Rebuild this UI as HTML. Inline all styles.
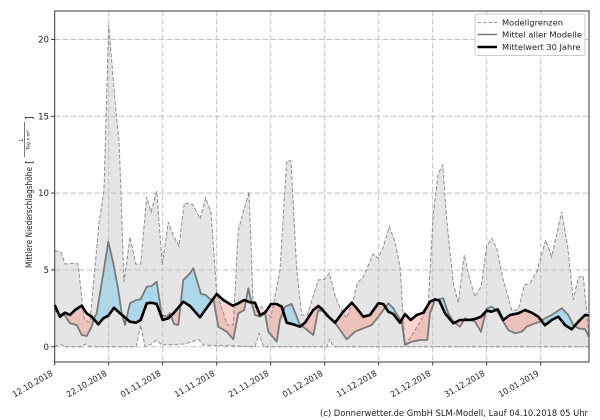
<!DOCTYPE html>
<html>
<head>
<meta charset="utf-8">
<style>
  html, body { margin: 0; padding: 0; background: #ffffff; }
  svg { display: block; }
  text { font-family: "DejaVu Sans", "Liberation Sans", sans-serif; fill: #222; }
</style>
</head>
<body>
<svg width="600" height="420" viewBox="0 0 600 420" xmlns="http://www.w3.org/2000/svg">
  <defs>
    <clipPath id="aboveBlack">
      <polygon points="54.7,305 60,316.7 65,312.7 70,315 75,310 81.7,305.7 86.7,313.3 91.7,316.7 98.3,324.3 103.3,318.3 108.3,315.7 114,307.7 120,313.3 130,321.7 136,322.7 140.7,320 146.7,303.3 151.7,302.7 156.7,304 162.7,320 168.3,318.3 174,312.7 183.3,301.7 190,306 200,317.3 216.7,294 223.3,300 232.7,305.7 238.3,303.3 244.3,300 250,302.3 255,302.7 260,315 265,312.7 271,304 276.7,304 281.7,306.7 286.7,322.7 293.3,324.3 300,326.7 305,322.7 313.3,310 318.3,306 322,309 326.7,315 335,322.7 343.3,311.7 351.7,302.7 356.7,308.3 363.3,316.7 370,315 378.3,303.3 383.3,304 388.3,311.7 393.3,314 400,322.7 405,314 410.7,320 416.7,315 423.3,312.7 430,301.7 435,299.3 439.3,300.7 445,313.3 453.3,323.3 460,320 468.3,320 475,319 481,316.7 486.7,310.7 491.7,311.7 497.7,309.3 503.3,320 510,315 518.3,313.3 525,310 531.7,312.7 538.3,316.7 545,325.3 551.7,320 558.3,316.7 565,325 571.7,329.3 578.3,321.7 585,315 589,315.5 589,0 54.7,0"/>
    </clipPath>
    <clipPath id="belowBlack">
      <polygon points="54.7,305 60,316.7 65,312.7 70,315 75,310 81.7,305.7 86.7,313.3 91.7,316.7 98.3,324.3 103.3,318.3 108.3,315.7 114,307.7 120,313.3 130,321.7 136,322.7 140.7,320 146.7,303.3 151.7,302.7 156.7,304 162.7,320 168.3,318.3 174,312.7 183.3,301.7 190,306 200,317.3 216.7,294 223.3,300 232.7,305.7 238.3,303.3 244.3,300 250,302.3 255,302.7 260,315 265,312.7 271,304 276.7,304 281.7,306.7 286.7,322.7 293.3,324.3 300,326.7 305,322.7 313.3,310 318.3,306 322,309 326.7,315 335,322.7 343.3,311.7 351.7,302.7 356.7,308.3 363.3,316.7 370,315 378.3,303.3 383.3,304 388.3,311.7 393.3,314 400,322.7 405,314 410.7,320 416.7,315 423.3,312.7 430,301.7 435,299.3 439.3,300.7 445,313.3 453.3,323.3 460,320 468.3,320 475,319 481,316.7 486.7,310.7 491.7,311.7 497.7,309.3 503.3,320 510,315 518.3,313.3 525,310 531.7,312.7 538.3,316.7 545,325.3 551.7,320 558.3,316.7 565,325 571.7,329.3 578.3,321.7 585,315 589,315.5 589,420 54.7,420"/>
    </clipPath>
  </defs>

  <!-- grey envelope fill -->
  <polygon fill="#e5e5e5" points="54.7,251 61,252 65,264 76,263.3 78,264 84,318 88,322 90,321.7 99,223 104,190 108.7,25 116.3,116 119,140 121,193 124,282 130,237 135.7,264 140.7,264 146.7,197 151,212 156.7,191 162.3,265 168.3,222 174,237 179,246 184.3,203 190,204 193.3,205 200,219 205.7,198 211,212 216.7,293 227.3,325 233.3,325 238.3,230 249,192 253.3,307 261.7,307 271,317 280,270 286.7,161 291,161 296.7,270 301.7,315 307.3,315 318.3,280 325,279 329.3,273 335,295 340,308 346.7,318 353.3,300 357.3,283.3 363.3,276.7 373.3,254 378.3,258.3 383.3,246.7 389.3,226.7 395,241.7 400,266.7 403,313 405,345 412,335 420,322 428,307 433.3,213.3 438.3,173.3 442.7,165 446.7,220 453.3,283.3 458.3,303 464.3,255 470,280 475,296.7 481,286.7 486.7,246.7 491.7,238.3 496.7,248.3 503.3,280 511.7,310 518.3,310 524.3,285 530,283.3 536.7,271.7 545.7,240 551.7,256.7 561.7,211.7 567.7,246.7 573.3,300 578.3,277.3 583.3,276 589,336.7 589,346.7 333.3,346.7 330,339.3 326.7,346.7 263.3,346.7 259,333.3 255,346.7 203.3,345 198.3,339.3 191.7,341.7 185,344 161.7,345 156.7,340 151.7,344 145,346.7 140.7,325 136,346.7 90,346.7 86,344 80,346.7 65,346.7 60,344 54.7,346.7"/>

  <!-- blue: model mean above 30-year mean -->
  <polygon clip-path="url(#aboveBlack)" fill="rgba(135,206,235,0.6)" points="54.7,310 60,315 63.3,313.3 70,323.3 76.7,325 81.7,335 86.7,336 91.7,326.7 93.3,320 96.7,313.3 103.3,273.3 108.3,241.7 113.3,263.3 118.3,290 121.7,313.3 125,325 130,303.3 136,300 140.7,299.3 146.7,286.7 151.7,286 156.7,281.7 161.7,315 166.7,316.7 170,313.3 174,324 178.3,325 183.3,280 190,273.3 193.3,268.3 201,294 205.7,295 211,300 213.3,298.3 218.3,326.7 226.7,331.7 233.3,339.3 238.3,313.3 244.3,310 248.3,288.3 251.7,303.3 255,315 260,316.7 265,313.3 268.3,331.7 276.7,341.7 280,320 285,306.7 291.7,304 300,325 305,328.3 313.3,335 318.3,310 322,311 326.7,313.3 330,318.3 335,322.7 346.7,339.3 355,331.7 363.3,328.3 371.7,325 378.3,316.7 383.3,310 388.3,303.3 393.3,308.3 398.3,316.7 401.7,321.7 405,345 411.7,341.7 420,340 427.3,340 430,313.3 435,300 443.3,298.3 448.3,313.3 453.3,321.7 460,326.7 465,318.3 470,320 475,321.7 481,331.7 486.7,308.3 491.7,306.7 496.7,310 503.3,321.7 508.3,330 515,333.3 521.7,331.7 526.7,326.7 535,323.3 540,321.7 545,318.3 551.7,315 561.7,308.3 568.3,315 573.3,325 578.3,328.3 585,329.3 589,336.7 589,420 54.7,420"/>

  <!-- pink: model mean below 30-year mean -->
  <polygon clip-path="url(#belowBlack)" fill="rgba(250,128,114,0.35)" points="54.7,310 60,315 63.3,313.3 70,323.3 76.7,325 81.7,335 86.7,336 91.7,326.7 93.3,320 96.7,313.3 103.3,273.3 108.3,241.7 113.3,263.3 118.3,290 121.7,313.3 125,325 130,303.3 136,300 140.7,299.3 146.7,286.7 151.7,286 156.7,281.7 161.7,315 166.7,316.7 170,313.3 174,324 178.3,325 183.3,280 190,273.3 193.3,268.3 201,294 205.7,295 211,300 213.3,298.3 218.3,326.7 226.7,331.7 233.3,339.3 238.3,313.3 244.3,310 248.3,288.3 251.7,303.3 255,315 260,316.7 265,313.3 268.3,331.7 276.7,341.7 280,320 285,306.7 291.7,304 300,325 305,328.3 313.3,335 318.3,310 322,311 326.7,313.3 330,318.3 335,322.7 346.7,339.3 355,331.7 363.3,328.3 371.7,325 378.3,316.7 383.3,310 388.3,303.3 393.3,308.3 398.3,316.7 401.7,321.7 405,345 411.7,341.7 420,340 427.3,340 430,313.3 435,300 443.3,298.3 448.3,313.3 453.3,321.7 460,326.7 465,318.3 470,320 475,321.7 481,331.7 486.7,308.3 491.7,306.7 496.7,310 503.3,321.7 508.3,330 515,333.3 521.7,331.7 526.7,326.7 535,323.3 540,321.7 545,318.3 551.7,315 561.7,308.3 568.3,315 573.3,325 578.3,328.3 585,329.3 589,336.7 589,0 54.7,0"/>

  <!-- grid -->
  <g stroke="#c4c4c4" stroke-width="1" stroke-dasharray="5.5,2.5" fill="none">
    <line x1="108.7" y1="11" x2="108.7" y2="362"/>
    <line x1="162.7" y1="11" x2="162.7" y2="362"/>
    <line x1="216.7" y1="11" x2="216.7" y2="362"/>
    <line x1="270.7" y1="11" x2="270.7" y2="362"/>
    <line x1="324.7" y1="11" x2="324.7" y2="362"/>
    <line x1="378.7" y1="11" x2="378.7" y2="362"/>
    <line x1="432.7" y1="11" x2="432.7" y2="362"/>
    <line x1="486.7" y1="11" x2="486.7" y2="362"/>
    <line x1="540.7" y1="11" x2="540.7" y2="362"/>
    <line x1="54.7" y1="346.7" x2="589" y2="346.7"/>
    <line x1="54.7" y1="269.9" x2="589" y2="269.9"/>
    <line x1="54.7" y1="193.1" x2="589" y2="193.1"/>
    <line x1="54.7" y1="116.3" x2="589" y2="116.3"/>
    <line x1="54.7" y1="39.5" x2="589" y2="39.5"/>
  </g>

  <!-- envelope dashed lines -->
  <g stroke="#8f8f8f" stroke-width="1" stroke-dasharray="4,2" fill="none">
    <polyline points="54.7,251 61,252 65,264 76,263.3 78,264 84,318 88,322 90,321.7 99,223 104,190 108.7,25 116.3,116 119,140 121,193 124,282 130,237 135.7,264 140.7,264 146.7,197 151,212 156.7,191 162.3,265 168.3,222 174,237 179,246 184.3,203 190,204 193.3,205 200,219 205.7,198 211,212 216.7,293 227.3,325 233.3,325 238.3,230 249,192 253.3,307 261.7,307 271,317 280,270 286.7,161 291,161 296.7,270 301.7,315 307.3,315 318.3,280 325,279 329.3,273 335,295 340,308 346.7,318 353.3,300 357.3,283.3 363.3,276.7 373.3,254 378.3,258.3 383.3,246.7 389.3,226.7 395,241.7 400,266.7 403,313 405,345 412,335 420,322 428,307 433.3,213.3 438.3,173.3 442.7,165 446.7,220 453.3,283.3 458.3,303 464.3,255 470,280 475,296.7 481,286.7 486.7,246.7 491.7,238.3 496.7,248.3 503.3,280 511.7,310 518.3,310 524.3,285 530,283.3 536.7,271.7 545.7,240 551.7,256.7 561.7,211.7 567.7,246.7 573.3,300 578.3,277.3 583.3,276 589,336.7"/>
    <polyline points="54.7,346.7 60,344 65,346.7 80,346.7 86,344 90,346.7 136,346.7 140.7,325 145,346.7 151.7,344 156.7,340 161.7,345 185,344 191.7,341.7 198.3,339.3 203.3,345 255,346.7 259,333.3 263.3,346.7 326.7,346.7 330,339.3 333.3,346.7 589,346.7"/>
  </g>

  <!-- model mean -->
  <polyline fill="none" stroke="#7a7a7a" stroke-width="1.8" stroke-linejoin="round" points="54.7,310 60,315 63.3,313.3 70,323.3 76.7,325 81.7,335 86.7,336 91.7,326.7 93.3,320 96.7,313.3 103.3,273.3 108.3,241.7 113.3,263.3 118.3,290 121.7,313.3 125,325 130,303.3 136,300 140.7,299.3 146.7,286.7 151.7,286 156.7,281.7 161.7,315 166.7,316.7 170,313.3 174,324 178.3,325 183.3,280 190,273.3 193.3,268.3 201,294 205.7,295 211,300 213.3,298.3 218.3,326.7 226.7,331.7 233.3,339.3 238.3,313.3 244.3,310 248.3,288.3 251.7,303.3 255,315 260,316.7 265,313.3 268.3,331.7 276.7,341.7 280,320 285,306.7 291.7,304 300,325 305,328.3 313.3,335 318.3,310 322,311 326.7,313.3 330,318.3 335,322.7 346.7,339.3 355,331.7 363.3,328.3 371.7,325 378.3,316.7 383.3,310 388.3,303.3 393.3,308.3 398.3,316.7 401.7,321.7 405,345 411.7,341.7 420,340 427.3,340 430,313.3 435,300 443.3,298.3 448.3,313.3 453.3,321.7 460,326.7 465,318.3 470,320 475,321.7 481,331.7 486.7,308.3 491.7,306.7 496.7,310 503.3,321.7 508.3,330 515,333.3 521.7,331.7 526.7,326.7 535,323.3 540,321.7 545,318.3 551.7,315 561.7,308.3 568.3,315 573.3,325 578.3,328.3 585,329.3 589,336.7"/>

  <!-- 30 year mean -->
  <polyline fill="none" stroke="#000" stroke-width="2.6" stroke-linejoin="round" points="54.7,305 60,316.7 65,312.7 70,315 75,310 81.7,305.7 86.7,313.3 91.7,316.7 98.3,324.3 103.3,318.3 108.3,315.7 114,307.7 120,313.3 130,321.7 136,322.7 140.7,320 146.7,303.3 151.7,302.7 156.7,304 162.7,320 168.3,318.3 174,312.7 183.3,301.7 190,306 200,317.3 216.7,294 223.3,300 232.7,305.7 238.3,303.3 244.3,300 250,302.3 255,302.7 260,315 265,312.7 271,304 276.7,304 281.7,306.7 286.7,322.7 293.3,324.3 300,326.7 305,322.7 313.3,310 318.3,306 322,309 326.7,315 335,322.7 343.3,311.7 351.7,302.7 356.7,308.3 363.3,316.7 370,315 378.3,303.3 383.3,304 388.3,311.7 393.3,314 400,322.7 405,314 410.7,320 416.7,315 423.3,312.7 430,301.7 435,299.3 439.3,300.7 445,313.3 453.3,323.3 460,320 468.3,320 475,319 481,316.7 486.7,310.7 491.7,311.7 497.7,309.3 503.3,320 510,315 518.3,313.3 525,310 531.7,312.7 538.3,316.7 545,325.3 551.7,320 558.3,316.7 565,325 571.7,329.3 578.3,321.7 585,315 589,315.5"/>

  <!-- axes frame -->
  <rect x="54.7" y="11" width="534.3" height="351" fill="none" stroke="#3a3a3a" stroke-width="1"/>

  <!-- y ticks -->
  <g stroke="#3a3a3a" stroke-width="1">
    <line x1="51.2" y1="346.7" x2="54.7" y2="346.7"/>
    <line x1="51.2" y1="269.9" x2="54.7" y2="269.9"/>
    <line x1="51.2" y1="193.1" x2="54.7" y2="193.1"/>
    <line x1="51.2" y1="116.3" x2="54.7" y2="116.3"/>
    <line x1="51.2" y1="39.5" x2="54.7" y2="39.5"/>
  </g>
  <g font-size="8.6" text-anchor="end">
    <text x="49" y="349.8">0</text>
    <text x="49" y="273">5</text>
    <text x="49" y="196.2">10</text>
    <text x="49" y="119.4">15</text>
    <text x="49" y="42.6">20</text>
  </g>

  <!-- x ticks -->
  <g stroke="#3a3a3a" stroke-width="1">
    <line x1="54.7" y1="362" x2="54.7" y2="365.5"/>
    <line x1="108.7" y1="362" x2="108.7" y2="365.5"/>
    <line x1="162.7" y1="362" x2="162.7" y2="365.5"/>
    <line x1="216.7" y1="362" x2="216.7" y2="365.5"/>
    <line x1="270.7" y1="362" x2="270.7" y2="365.5"/>
    <line x1="324.7" y1="362" x2="324.7" y2="365.5"/>
    <line x1="378.7" y1="362" x2="378.7" y2="365.5"/>
    <line x1="432.7" y1="362" x2="432.7" y2="365.5"/>
    <line x1="486.7" y1="362" x2="486.7" y2="365.5"/>
    <line x1="540.7" y1="362" x2="540.7" y2="365.5"/>
  </g>
  <g font-size="8.3" text-anchor="end">
    <text transform="translate(53.5,375) rotate(-30)" textLength="45" lengthAdjust="spacingAndGlyphs">12.10.2018</text>
    <text transform="translate(107.5,375) rotate(-30)" textLength="45" lengthAdjust="spacingAndGlyphs">22.10.2018</text>
    <text transform="translate(161.5,375) rotate(-30)" textLength="45" lengthAdjust="spacingAndGlyphs">01.11.2018</text>
    <text transform="translate(215.5,375) rotate(-30)" textLength="45" lengthAdjust="spacingAndGlyphs">11.11.2018</text>
    <text transform="translate(269.5,375) rotate(-30)" textLength="45" lengthAdjust="spacingAndGlyphs">21.11.2018</text>
    <text transform="translate(323.5,375) rotate(-30)" textLength="45" lengthAdjust="spacingAndGlyphs">01.12.2018</text>
    <text transform="translate(377.5,375) rotate(-30)" textLength="45" lengthAdjust="spacingAndGlyphs">11.12.2018</text>
    <text transform="translate(431.5,375) rotate(-30)" textLength="45" lengthAdjust="spacingAndGlyphs">21.12.2018</text>
    <text transform="translate(485.5,375) rotate(-30)" textLength="45" lengthAdjust="spacingAndGlyphs">31.12.2018</text>
    <text transform="translate(539.5,375) rotate(-30)" textLength="45" lengthAdjust="spacingAndGlyphs">10.01.2019</text>
  </g>

  <!-- y-axis label -->
  <g transform="translate(32,268) rotate(-90)">
    <text x="0" y="0" font-size="8.6" textLength="101" lengthAdjust="spacingAndGlyphs">Mittlere Niederschlagshöhe</text>
    <text x="104" y="0.5" font-size="10">[</text>
    <text x="128" y="-9" font-size="5" text-anchor="middle">L</text>
    <line x1="111" y1="-7.3" x2="146" y2="-7.3" stroke="#222" stroke-width="0.6"/>
    <text x="128" y="-2.5" font-size="4.6" text-anchor="middle">Tag x m²</text>
    <text x="148" y="0.5" font-size="10">]</text>
  </g>

  <!-- legend -->
  <rect x="475" y="14" width="110" height="41.5" rx="2" ry="2" fill="#ffffff" fill-opacity="0.85" stroke="#cccccc" stroke-width="1"/>
  <line x1="477.5" y1="22.5" x2="497" y2="22.5" stroke="#999" stroke-width="1" stroke-dasharray="3.5,2"/>
  <line x1="477.5" y1="34.5" x2="497" y2="34.5" stroke="#7a7a7a" stroke-width="1.6"/>
  <line x1="477.5" y1="47" x2="497" y2="47" stroke="#000" stroke-width="2.6"/>
  <g font-size="8.3">
    <text x="502" y="25.5" textLength="61" lengthAdjust="spacingAndGlyphs">Modellgrenzen</text>
    <text x="502" y="37.5" textLength="80" lengthAdjust="spacingAndGlyphs">Mittel aller Modelle</text>
    <text x="502" y="50" textLength="78.5" lengthAdjust="spacingAndGlyphs">Mittelwert 30 Jahre</text>
  </g>

  <!-- credit -->
  <text x="320" y="416" font-size="8.6" textLength="268" lengthAdjust="spacingAndGlyphs">(c) Donnerwetter.de GmbH SLM-Modell, Lauf 04.10.2018 05 Uhr</text>
</svg>
</body>
</html>
